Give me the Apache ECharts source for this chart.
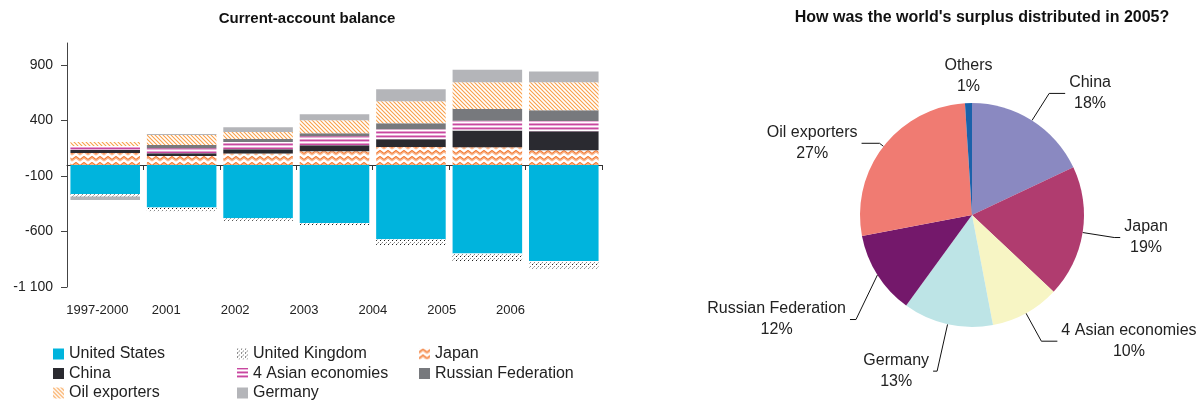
<!DOCTYPE html>
<html>
<head>
<meta charset="utf-8">
<script src="https://cdn.jsdelivr.net/npm/echarts@6/dist/echarts.min.js"></script>
<style>
  body { margin: 0; background: #fff; }
  #main { width: 1199px; height: 400px; }
</style>
</head>
<body>
<div id="main"></div>
<script>
const categories = ['1997-2000', '2001', '2002', '2003', '2004', '2005', '2006'];
const unitedStates = [-261, -384, -481, -523, -670, -799, -865];
const unitedKingdom = [-24, -33, -21, -21, -51, -72, -69];
const japan = [108, 81, 103, 124, 163, 160, 133];
const china = [27, 24, 39, 54, 69, 150, 171];
const asian4 = [36, 45, 66, 81, 90, 90, 93];
const russia = [0, 30, 27, 27, 54, 105, 96];
const oilExporters = [36, 90, 63, 117, 198, 240, 252];
const germany = [-30, 9, 42, 54, 108, 114, 99];
const yTicks = [-1100, -600, -100, 400, 900];

const pieNames = ['China', 'Japan', '4 Asian economies', 'Germany', 'Russian Federation', 'Oil exporters', 'Others'];
const pieShares = [18, 19, 10, 13, 12, 27, 1];
const pieColors = ['#8a89c1', '#b03c6f', '#f7f5c4', '#bde4e6', '#74186b', '#f07b72', '#1b62aa'];
// label line [length, length2] per slice
const pieLines = {
  'China': [32, 16], 'Japan': [32, 6], '4 Asian economies': [32, 16],
  'Germany': [48, 4], 'Russian Federation': [42, 6], 'Oil exporters': [5, 18]
};

const FONT = 'Liberation Sans, Arial, sans-serif';

function makePattern(w, h, draw) {
  const c = document.createElement('canvas');
  c.width = w; c.height = h;
  const ctx = c.getContext('2d');
  ctx.fillStyle = '#fff';
  ctx.fillRect(0, 0, w, h);
  draw(ctx);
  return { image: c, repeat: 'repeat' };
}

const zigzag = makePattern(8, 6, ctx => {
  ctx.lineWidth = 1.2;
  ctx.strokeStyle = '#fbb68c';
  ctx.beginPath(); ctx.moveTo(0, 5); ctx.lineTo(4, 2); ctx.lineTo(8, 5); ctx.stroke();
  ctx.strokeStyle = '#f27a33';
  ctx.beginPath(); ctx.moveTo(0, 3.5); ctx.lineTo(4, 0.5); ctx.lineTo(8, 3.5); ctx.stroke();
});
const diagonal = makePattern(4, 4, ctx => {
  ctx.lineWidth = 1.1;
  ctx.strokeStyle = '#f9a04b';
  ctx.beginPath();
  ctx.moveTo(-1, -1); ctx.lineTo(5, 5);
  ctx.moveTo(-1, 3); ctx.lineTo(1, 5);
  ctx.moveTo(3, -1); ctx.lineTo(5, 1);
  ctx.stroke();
});
const stripes = makePattern(4, 4, ctx => {
  ctx.fillStyle = '#c8479f'; ctx.fillRect(0, 0, 4, 1);
  ctx.fillStyle = '#eab3da'; ctx.fillRect(0, 1, 4, 1);
  ctx.fillStyle = '#e5a1cf'; ctx.fillRect(0, 3, 4, 1);
});
const dots = makePattern(4, 4, ctx => {
  ctx.fillStyle = '#222'; ctx.fillRect(0, 0, 1, 1);
  ctx.fillStyle = '#888'; ctx.fillRect(2, 2, 1, 1);
  ctx.fillStyle = '#bbb'; ctx.fillRect(1, 3, 1, 1);
});

function bar(name, data, color) {
  return {
    name: name, type: 'bar', stack: 'total', data: data,
    barCategoryGap: '9%', itemStyle: { color: color },
    emphasis: { disabled: true }
  };
}

const pieData = pieNames.map((n, i) => ({
  name: n, value: pieShares[i],
  itemStyle: { color: pieColors[i] },
  labelLine: n === 'Others' ? { show: false } : { length: pieLines[n][0], length2: pieLines[n][1] }
}));

const legendBase = {
  orient: 'vertical', top: 346, height: 80, padding: 0,
  itemWidth: 11, itemHeight: 11, itemGap: 3.5,
  selectedMode: false, icon: 'rect',
  textStyle: { fontSize: 16, color: '#222', fontFamily: FONT }
};

const chart = echarts.init(document.getElementById('main'));
chart.setOption({
  animation: false,
  textStyle: { fontFamily: FONT },
  title: [
    { text: 'Current-account balance', left: 307, top: 11, padding: 0, textAlign: 'center',
      textStyle: { fontSize: 15, fontWeight: 'bold', color: '#111', fontFamily: FONT } },
    { text: "How was the world's surplus distributed in 2005?", left: 982, top: 10, padding: 0, textAlign: 'center',
      textStyle: { fontSize: 16, fontWeight: 'bold', color: '#111', fontFamily: FONT } }
  ],
  legend: [
    Object.assign({ left: 53, data: ['United States', 'China', 'Oil exporters'] }, legendBase),
    Object.assign({ left: 237, data: ['United Kingdom', '4 Asian economies', 'Germany'] }, legendBase),
    Object.assign({ left: 419, data: ['Japan', 'Russian Federation'] }, legendBase)
  ],
  grid: [
    { left: 67, right: 597, top: 43, bottom: 113 },
    { left: 63, width: 482, top: 280, height: 7 }
  ],
  xAxis: [
    {
      type: 'category', gridIndex: 0, data: categories,
      axisLine: { onZero: true, lineStyle: { color: '#333', width: 1 } },
      axisTick: { show: true, length: 5, lineStyle: { color: '#333' } },
      axisLabel: { show: false }
    },
    {
      type: 'category', gridIndex: 1, data: categories,
      axisLine: { show: false }, axisTick: { show: false },
      axisLabel: { margin: 17, fontSize: 13, color: '#222', fontFamily: FONT, interval: 0 }
    }
  ],
  yAxis: [
    {
      type: 'value', gridIndex: 0, min: -1100, max: 1100,
      splitLine: { show: false },
      axisLine: { show: true, lineStyle: { color: '#444' } },
      axisTick: { show: true, length: 6, customValues: yTicks, lineStyle: { color: '#444' } },
      axisLabel: {
        customValues: yTicks, margin: 14, fontSize: 14, color: '#222', fontFamily: FONT,
        formatter: v => String(v).replace(/\B(?=(\d{3})+(?!\d))/g, ' ')
      }
    },
    { type: 'value', gridIndex: 1, show: false }
  ],
  series: [
    bar('United States', unitedStates, '#00b4dd'),
    bar('United Kingdom', unitedKingdom, dots),
    bar('Japan', japan, zigzag),
    bar('China', china, '#2a2a30'),
    bar('4 Asian economies', asian4, stripes),
    bar('Russian Federation', russia, '#77797d'),
    bar('Oil exporters', oilExporters, diagonal),
    bar('Germany', germany, '#b4b5b9'),
    {
      type: 'pie', left: 0, top: 0, width: 1400, height: 400,
      center: [972, 215], radius: 112, startAngle: 90, clockwise: true,
      avoidLabelOverlap: false, silent: true,
      data: pieData,
      label: {
        show: true, position: 'outside', bleedMargin: 0, distanceToLabelLine: 4,
        formatter: '{t|{b}}\n{t|{c}%}',
        rich: { t: { align: 'center', fontSize: 16, lineHeight: 21, color: '#222', fontFamily: FONT } }
      },
      labelLine: { show: true, lineStyle: { color: '#111', width: 1 } },
      labelLayout: function (p) {
        const n = pieNames[p.dataIndex];
        if (n === 'Others') {
          return { x: p.rect.x + p.rect.width / 2, y: p.rect.y - 27, align: 'center', verticalAlign: 'middle' };
        }
        if (n === 'Russian Federation' && p.labelLinePoints) {
          const dx = 14, dy = 22;
          const pts = p.labelLinePoints;
          return {
            dx: dx, dy: dy,
            labelLinePoints: [pts[0], [pts[1][0] + dx, pts[1][1] + dy], [pts[2][0] + dx, pts[2][1] + dy]]
          };
        }
      }
    }
  ]
});
</script>
</body>
</html>
